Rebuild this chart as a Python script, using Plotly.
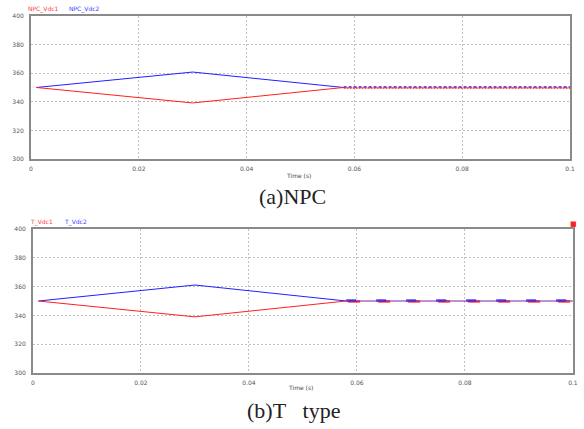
import plotly.graph_objects as go

# ---- data ----
t_ramp = [0.001, 0.030, 0.058]
npc_vdc1_ramp = [350, 339.2, 350]
npc_vdc2_ramp = [350, 360.8, 350]
t_flat = [0.058, 0.100]
npc_vdc1_flat = [349.7, 349.7]
npc_vdc2_flat = [350.3, 350.3]

t_vdc1_ramp = [0.001, 0.030, 0.058]
t_vdc1_vals = [350, 339.0, 350]
t_vdc2_vals = [350, 361.1, 350]
t_vdc1_flat = [349.6, 349.6]
t_vdc2_flat = [350.3, 350.3]

x_ticks = [0, 0.02, 0.04, 0.06, 0.08, 0.1]
x_tick_labels = ["0", "0.02", "0.04", "0.06", "0.08", "0.1"]
y_ticks = [300, 320, 340, 360, 380, 400]
y_tick_labels = ["300", "320", "340", "360", "380", "400"]

RED = "#ff2020"
BLUE = "#2020ff"

fig = go.Figure()

# top plot (NPC)
fig.add_trace(go.Scatter(x=t_ramp, y=npc_vdc2_ramp, mode="lines", line=dict(color=BLUE, width=1), xaxis="x", yaxis="y", showlegend=False))
fig.add_trace(go.Scatter(x=t_ramp, y=npc_vdc1_ramp, mode="lines", line=dict(color=RED, width=1), xaxis="x", yaxis="y", showlegend=False))
fig.add_trace(go.Scatter(x=t_flat, y=npc_vdc2_flat, mode="lines", line=dict(color=BLUE, width=1.5, dash="3px,2px"), xaxis="x", yaxis="y", showlegend=False))
fig.add_trace(go.Scatter(x=t_flat, y=npc_vdc1_flat, mode="lines", line=dict(color=RED, width=1.5, dash="2px,1px"), xaxis="x", yaxis="y", showlegend=False))

# bottom plot (T type)
fig.add_trace(go.Scatter(x=t_vdc1_ramp, y=t_vdc2_vals, mode="lines", line=dict(color=BLUE, width=1), xaxis="x2", yaxis="y2", showlegend=False))
fig.add_trace(go.Scatter(x=t_vdc1_ramp, y=t_vdc1_vals, mode="lines", line=dict(color=RED, width=1), xaxis="x2", yaxis="y2", showlegend=False))
fig.add_trace(go.Scatter(x=t_flat, y=t_vdc1_flat, mode="lines", line=dict(color=RED, width=2.5, dash="0px,2px,12px,16px"), opacity=0.8, xaxis="x2", yaxis="y2", showlegend=False))
fig.add_trace(go.Scatter(x=t_flat, y=t_vdc2_flat, mode="lines", line=dict(color=BLUE, width=2.5, dash="10px,20px"), opacity=0.8, xaxis="x2", yaxis="y2", showlegend=False))
fig.add_trace(go.Scatter(x=t_flat, y=[350, 350], mode="lines", line=dict(color="#8020a0", width=1), xaxis="x2", yaxis="y2", showlegend=False))

tickfont = dict(family="DejaVu Sans", size=6, color="#555555")
common_x = dict(range=[0, 0.1], tickvals=x_ticks, ticktext=x_tick_labels, showgrid=True,
                gridcolor="#c0c0c0", griddash="2px,2px", gridwidth=1, zeroline=False,
                showline=True, linecolor="#8a8a8a", linewidth=2, mirror=True,
                tickfont=tickfont, ticks="outside", ticklen=3, tickcolor="rgba(0,0,0,0)",
                automargin=False)
common_y = dict(range=[300, 400], tickvals=y_ticks, ticktext=y_tick_labels, showgrid=True,
                gridcolor="#c0c0c0", griddash="2px,2px", gridwidth=1, zeroline=False,
                showline=True, linecolor="#8a8a8a", linewidth=2, mirror=True,
                tickfont=tickfont, ticks="outside", ticklen=4, tickcolor="rgba(0,0,0,0)",
                automargin=False)

fig.update_layout(
    width=584, height=429,
    margin=dict(l=0, r=0, t=0, b=0),
    paper_bgcolor="white", plot_bgcolor="white",
    xaxis=dict(domain=[0.0531, 0.976], anchor="y", **common_x),
    yaxis=dict(domain=[0.6294, 0.9627], anchor="x", **common_y),
    xaxis2=dict(domain=[0.0565, 0.981], anchor="y2", **common_x),
    yaxis2=dict(domain=[0.1305, 0.4662], anchor="x2", **common_y),
    showlegend=False,
)

ann = []
def txt(x, y, s, color="#444444", size=6, family="DejaVu Sans"):
    ann.append(dict(x=x, y=y, xref="paper", yref="paper", text=s, showarrow=False,
                    xanchor="center", yanchor="middle", font=dict(family=family, size=size, color=color)))

txt(43.5/584, 1 - 9/429, "NPC_Vdc1", "#ff4040")
txt(84.5/584, 1 - 9/429, "NPC_Vdc2", "#4040ff")
txt(298/584, 1 - 175/429, "Time (s)")
txt(292/584, 1 - 196/429, "(a)NPC", "#222222", 22, "Liberation Serif")

txt(41/584, 1 - 222/429, "T_Vdc1", "#ff4040")
txt(75/584, 1 - 222/429, "T_Vdc2", "#4040ff")
txt(300/584, 1 - 387/429, "Time (s)")
txt(293/584, 1 - 410/429, "(b)T\u2002\u00a0type", "#222222", 22, "Liberation Serif")
txt(573.5/584, 1 - 224/429, "■", RED, 7)

fig.update_layout(annotations=ann)
fig.write_html("out.html", config={"displayModeBar": False},
               post_script="document.body.style.margin='0px';document.body.style.overflow='hidden';")
